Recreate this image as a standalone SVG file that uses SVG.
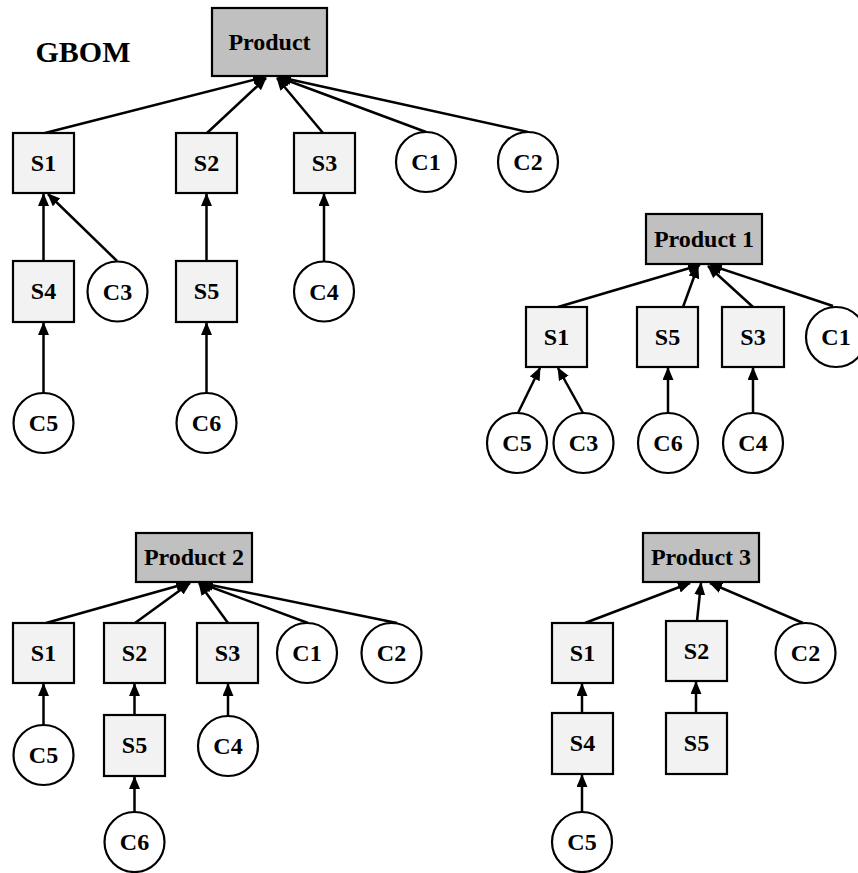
<svg xmlns="http://www.w3.org/2000/svg" width="858" height="873" viewBox="0 0 858 873">
<style>
text{font-family:"Liberation Serif","Times New Roman",serif;font-weight:bold;font-size:24px;text-anchor:middle;fill:#000}
.prod{fill:#c0c0c0;stroke:#000;stroke-width:2.2}
.sub{fill:#f2f2f2;stroke:#000;stroke-width:2.2}
.comp{fill:#fff;stroke:#000;stroke-width:2.2}
.edge line{stroke:#000;stroke-width:2.5;marker-end:url(#arr)}
</style>
<defs>
<marker id="arr" markerUnits="userSpaceOnUse" markerWidth="14" markerHeight="12" refX="12" refY="5.5" orient="auto">
<path d="M0,0 L13,5.5 L0,11 z" fill="#000"/>
</marker>
</defs>
<rect width="858" height="873" fill="#fff"/>
<text x="83" y="62" style="font-size:30px">GBOM</text>

<g id="connectors" class="edge">
<!-- GBOM -->
<line x1="45" y1="133" x2="265" y2="77"/>
<line x1="207" y1="133" x2="266" y2="78"/>
<line x1="323" y1="133" x2="277" y2="78"/>
<line x1="426" y1="132" x2="278" y2="77"/>
<line x1="528" y1="132" x2="279" y2="77"/>
<line x1="43.5" y1="261" x2="43.5" y2="194"/>
<line x1="117" y1="261" x2="48" y2="194"/>
<line x1="206.5" y1="261" x2="206.5" y2="194"/>
<line x1="324" y1="261" x2="324" y2="194"/>
<line x1="43.5" y1="393" x2="43.5" y2="323"/>
<line x1="206.5" y1="393" x2="206.5" y2="323"/>
<!-- Product 1 -->
<line x1="558" y1="307" x2="700" y2="265"/>
<line x1="683" y1="307" x2="698" y2="266"/>
<line x1="753" y1="307" x2="708" y2="266"/>
<line x1="833" y1="306" x2="710" y2="265"/>
<line x1="518" y1="413" x2="540" y2="368"/>
<line x1="583" y1="413" x2="558" y2="368"/>
<line x1="668" y1="413" x2="668" y2="368"/>
<line x1="753" y1="413" x2="753" y2="368"/>
<!-- Product 2 -->
<line x1="46" y1="623" x2="188" y2="583"/>
<line x1="135" y1="623" x2="190" y2="583"/>
<line x1="228" y1="623" x2="199" y2="583"/>
<line x1="308" y1="623" x2="200" y2="583"/>
<line x1="397" y1="623" x2="201" y2="583"/>
<line x1="43.5" y1="725" x2="43.5" y2="684"/>
<line x1="134.5" y1="715" x2="134.5" y2="684"/>
<line x1="228" y1="716" x2="228" y2="684"/>
<line x1="134.5" y1="812" x2="134.5" y2="777"/>
<!-- Product 3 -->
<line x1="585" y1="623" x2="690" y2="583"/>
<line x1="697" y1="621" x2="701" y2="583"/>
<line x1="803" y1="623" x2="710" y2="583"/>
<line x1="582" y1="713" x2="582" y2="684"/>
<line x1="696" y1="713" x2="696" y2="682"/>
<line x1="582" y1="812" x2="582" y2="775"/>
</g>

<!-- GBOM nodes -->
<g id="g-product"><rect class="prod" x="212" y="8" width="115" height="68"/><text x="269.5" y="50">Product</text></g>
<g id="g-s1"><rect class="sub" x="13" y="133" width="61" height="60"/><text x="43.5" y="171">S1</text></g>
<g id="g-s2"><rect class="sub" x="176" y="133" width="61" height="60"/><text x="206.5" y="171">S2</text></g>
<g id="g-s3"><rect class="sub" x="294" y="133" width="61" height="60"/><text x="324.5" y="171">S3</text></g>
<g id="g-c1"><circle class="comp" cx="426" cy="162" r="30"/><text x="426" y="170">C1</text></g>
<g id="g-c2"><circle class="comp" cx="528" cy="162" r="30"/><text x="528" y="170">C2</text></g>
<g id="g-s4"><rect class="sub" x="13" y="261" width="61" height="61"/><text x="43.5" y="299">S4</text></g>
<g id="g-c3"><circle class="comp" cx="117.5" cy="291.5" r="30"/><text x="117.5" y="299.5">C3</text></g>
<g id="g-s5"><rect class="sub" x="176" y="261" width="61" height="61"/><text x="206.5" y="299">S5</text></g>
<g id="g-c4"><circle class="comp" cx="324" cy="291.5" r="30"/><text x="324" y="299.5">C4</text></g>
<g id="g-c5"><circle class="comp" cx="43.5" cy="423" r="30"/><text x="43.5" y="431">C5</text></g>
<g id="g-c6"><circle class="comp" cx="206.5" cy="423" r="30"/><text x="206.5" y="431">C6</text></g>

<!-- Product 1 nodes -->
<g id="p1-product"><rect class="prod" x="646" y="214" width="116" height="50"/><text x="704" y="247">Product 1</text></g>
<g id="p1-s1"><rect class="sub" x="526" y="307" width="61" height="60"/><text x="556.5" y="345">S1</text></g>
<g id="p1-s5"><rect class="sub" x="637" y="307" width="61" height="60"/><text x="667.5" y="345">S5</text></g>
<g id="p1-s3"><rect class="sub" x="722" y="307" width="62" height="60"/><text x="753" y="345">S3</text></g>
<g id="p1-c1"><circle class="comp" cx="836" cy="337" r="30"/><text x="836" y="345">C1</text></g>
<g id="p1-c5"><circle class="comp" cx="517" cy="443" r="30"/><text x="517" y="451">C5</text></g>
<g id="p1-c3"><circle class="comp" cx="583.5" cy="443" r="30"/><text x="583.5" y="451">C3</text></g>
<g id="p1-c6"><circle class="comp" cx="668" cy="443" r="30"/><text x="668" y="451">C6</text></g>
<g id="p1-c4"><circle class="comp" cx="753" cy="443" r="30"/><text x="753" y="451">C4</text></g>

<!-- Product 2 nodes -->
<g id="p2-product"><rect class="prod" x="136" y="533" width="116" height="49"/><text x="194" y="565">Product 2</text></g>
<g id="p2-s1"><rect class="sub" x="13" y="623" width="61" height="60"/><text x="43.5" y="661">S1</text></g>
<g id="p2-s2"><rect class="sub" x="104" y="623" width="61" height="60"/><text x="134.5" y="661">S2</text></g>
<g id="p2-s3"><rect class="sub" x="197" y="623" width="61" height="60"/><text x="227.5" y="661">S3</text></g>
<g id="p2-c1"><circle class="comp" cx="307" cy="653" r="30"/><text x="307" y="661">C1</text></g>
<g id="p2-c2"><circle class="comp" cx="391.5" cy="653" r="30"/><text x="391.5" y="661">C2</text></g>
<g id="p2-c5"><circle class="comp" cx="43.5" cy="755" r="30"/><text x="43.5" y="763">C5</text></g>
<g id="p2-s5"><rect class="sub" x="104" y="715" width="61" height="61"/><text x="134.5" y="753">S5</text></g>
<g id="p2-c4"><circle class="comp" cx="228" cy="746" r="30"/><text x="228" y="754">C4</text></g>
<g id="p2-c6"><circle class="comp" cx="134.5" cy="842" r="30"/><text x="134.5" y="850">C6</text></g>

<!-- Product 3 nodes -->
<g id="p3-product"><rect class="prod" x="643" y="533" width="116" height="49"/><text x="701" y="565">Product 3</text></g>
<g id="p3-s1"><rect class="sub" x="552" y="623" width="61" height="60"/><text x="582.5" y="661">S1</text></g>
<g id="p3-s2"><rect class="sub" x="666" y="621" width="61" height="60"/><text x="696.5" y="659">S2</text></g>
<g id="p3-c2"><circle class="comp" cx="805.5" cy="653" r="30"/><text x="805.5" y="661">C2</text></g>
<g id="p3-s4"><rect class="sub" x="552" y="713" width="61" height="61"/><text x="582.5" y="751">S4</text></g>
<g id="p3-s5"><rect class="sub" x="666" y="713" width="61" height="61"/><text x="696.5" y="751">S5</text></g>
<g id="p3-c5"><circle class="comp" cx="582" cy="842" r="30"/><text x="582" y="850">C5</text></g>
</svg>
